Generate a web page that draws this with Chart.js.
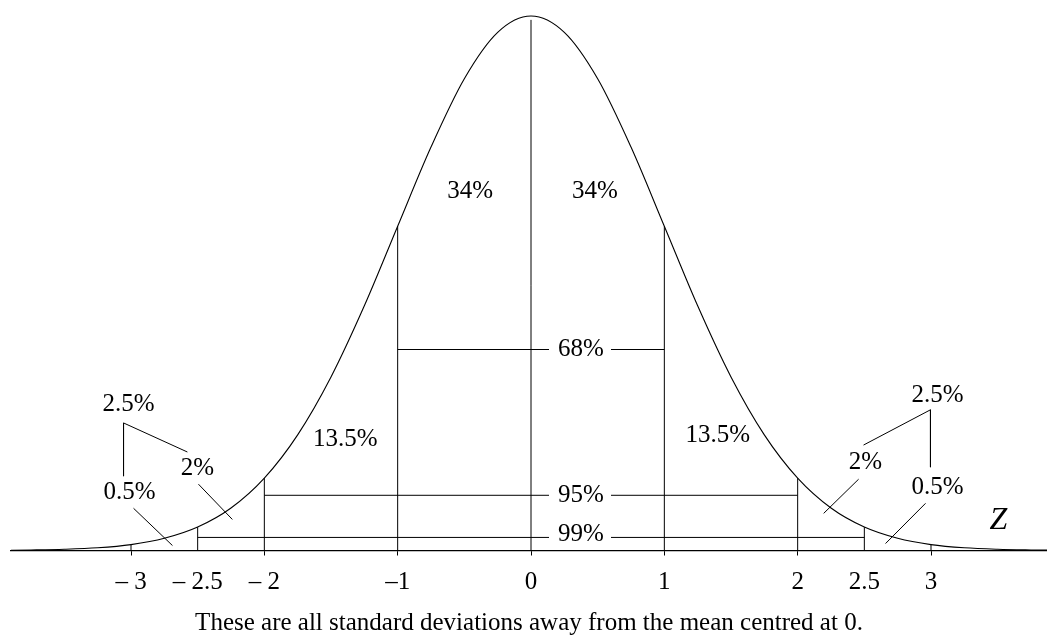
<!DOCTYPE html>
<html>
<head>
<meta charset="utf-8">
<script src="https://cdn.jsdelivr.net/npm/chart.js@4.4.1/dist/chart.umd.min.js"></script>
<style>
  html, body { margin: 0; padding: 0; background: #fff; overflow: hidden; }
  #wrap { width: 1047px; height: 637px; }
</style>
</head>
<body>
<div id="wrap"><canvas id="bell"></canvas></div>
<script>
// ── Curve ────────────────────────────────────────────────────────────────────
const zValues = [-4, -3.75, -3.5, -3.25, -3, -2.75, -2.5, -2.25, -2, -1.75, -1.5, -1.25, -1,
  -0.75, -0.5, -0.25, 0, 0.25, 0.5, 0.75, 1, 1.25, 1.5, 1.75, 2, 2.25, 2.5, 2.75, 3, 3.25, 3.5, 3.75, 4];
const density = [0.0001, 0.0004, 0.0009, 0.0020, 0.0044, 0.0091, 0.0175, 0.0317, 0.0540, 0.0863, 0.1295, 0.1826, 0.2420,
  0.3011, 0.3521, 0.3867, 0.3989, 0.3867, 0.3521, 0.3011, 0.2420, 0.1826, 0.1295, 0.0863, 0.0540, 0.0317, 0.0175, 0.0091, 0.0044, 0.0020, 0.0009, 0.0004, 0.0001];

// ── Marked z values, height of their vertical lines, tick labels ─────────────
const markZ      = [-3, -2.5, -2, -1, 0, 1, 2, 2.5, 3];
const markTop    = [0.0044, 0.0175, 0.0540, 0.2420, 0.3960, 0.2420, 0.0540, 0.0175, 0.0044];
const tickLabels = ['– 3', '– 2.5', '– 2', '–1', '0', '1', '2', '2.5', '3'];

// ── Bracket rows: [y, from, to] – broken in the middle for the label ─────────
const bandY     = [0.150, 0.0412, 0.00975];
const bandFrom  = [-1, -2, -2.5];
const bandTo    = [1, 2, 2.5];
const bandGap   = [0.135, 0.60];

// ── Pointer / bracket strokes near the tails: [x1, y1, x2, y2] ──────────────
const pointers = [
  [-3.056, 0.0952, -3.056, 0.0555],
  [-3.056, 0.0952, -2.577, 0.0735],
  [-2.494, 0.0495, -2.240, 0.0232],
  [-2.981, 0.0315, -2.689, 0.0037],
  [ 2.996, 0.1050,  2.996, 0.0622],
  [ 2.996, 0.1050,  2.494, 0.0787],
  [ 2.457, 0.0532,  2.195, 0.0277],
  [ 2.959, 0.0352,  2.659, 0.0052],
];

// ── Percent labels ───────────────────────────────────────────────────────────
const labelText = ['34%', '34%', '68%', '13.5%', '13.5%', '95%', '99%', '2.5%', '2%', '0.5%', '2.5%', '2%', '0.5%'];
const labelX    = [-0.457, 0.479, 0.375, -1.393, 1.401, 0.375, 0.375, -3.019, -2.502, -3.011, 3.049, 2.509, 3.049];
const labelY    = [0.268, 0.268, 0.150, 0.083, 0.086, 0.0412, 0.0120, 0.109, 0.061, 0.043, 0.116, 0.066, 0.047];

const serif = '"Liberation Serif", "DejaVu Serif", serif';

// ── Build line datasets ──────────────────────────────────────────────────────
const seg = (data, w) => ({
  type: 'line', data, borderColor: '#000', borderWidth: w || 1,
  pointRadius: 0, fill: false, clip: false, tension: 0,
});

const datasets = [];
datasets.push({
  ...seg(zValues.map((z, i) => ({ x: z, y: density[i] })), 1.1),
  cubicInterpolationMode: 'monotone',
  clip: { left: 0, right: 0, top: 10, bottom: 2 },
});
markZ.forEach((z, i) => datasets.push(seg([{ x: z, y: 0 }, { x: z, y: markTop[i] }])));
bandY.forEach((y, i) => {
  datasets.push(seg([{ x: bandFrom[i], y }, { x: bandGap[0], y }]));
  datasets.push(seg([{ x: bandGap[1], y }, { x: bandTo[i], y }]));
});
pointers.forEach(p => datasets.push(seg([{ x: p[0], y: p[1] }, { x: p[2], y: p[3] }])));

// ── Text drawn at data positions ─────────────────────────────────────────────
const textLabels = {
  id: 'textLabels',
  afterDatasetsDraw(chart) {
    const { ctx, scales: { x, y } } = chart;
    ctx.save();
    ctx.fillStyle = '#000';
    ctx.textAlign = 'center';
    ctx.textBaseline = 'middle';
    ctx.font = '25px ' + serif;
    labelText.forEach((t, i) => ctx.fillText(t, x.getPixelForValue(labelX[i]), y.getPixelForValue(labelY[i])));
    ctx.font = 'italic 32px ' + serif;
    ctx.fillText('Z', x.getPixelForValue(3.506), y.getPixelForValue(0.0225));
    ctx.restore();
  },
};

new Chart(document.getElementById('bell'), {
  type: 'scatter',
  data: { datasets },
  options: {
    responsive: true,
    maintainAspectRatio: false,
    animation: false,
    events: [],
    layout: { padding: { top: 16, left: 11, right: 0, bottom: 0 } },
    plugins: {
      legend: { display: false },
      tooltip: { enabled: false },
      title: {
        display: true,
        position: 'bottom',
        text: 'These are all standard deviations away from the mean centred at 0.',
        color: '#000',
        font: { family: serif, size: 25, weight: 'normal', lineHeight: 1.1 },
        padding: { top: 0, bottom: 0 },
      },
    },
    scales: {
      x: {
        type: 'linear',
        min: -3.9,
        max: 3.87,
        afterBuildTicks: axis => { axis.ticks = markZ.map(v => ({ value: v })); },
        ticks: {
          color: '#000',
          font: { family: serif, size: 25 },
          padding: 12,
          maxRotation: 0,
          autoSkip: false,
          callback: (v, i) => tickLabels[i],
        },
        grid: {
          drawOnChartArea: false,
          drawTicks: true,
          tickLength: 5,
          color: ctx => (ctx.tick && Number.isInteger(ctx.tick.value)) ? '#000' : 'rgba(0,0,0,0)',
        },
        border: { display: true, color: '#000', width: 1.2 },
      },
      y: {
        type: 'linear',
        display: false,
        min: 0,
        max: 0.3989,
      },
    },
  },
  plugins: [textLabels],
});
</script>
</body>
</html>
